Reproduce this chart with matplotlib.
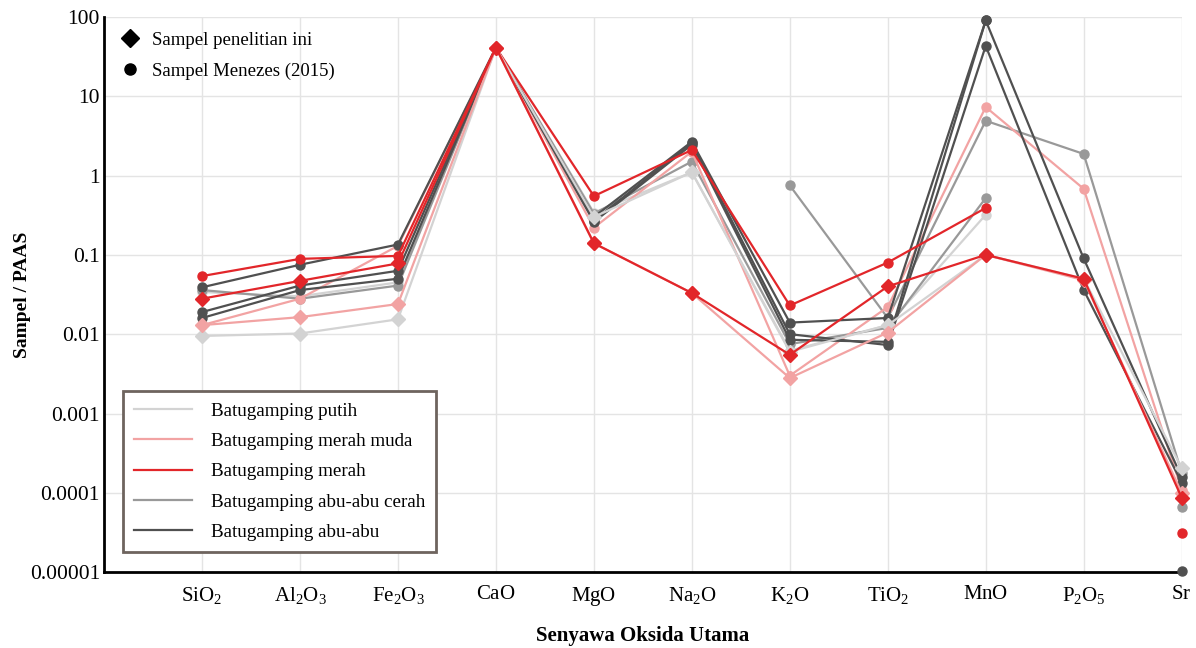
import matplotlib
matplotlib.use("Agg")
import matplotlib.pyplot as plt
from matplotlib.lines import Line2D
import numpy as np

nan = np.nan

oxides = ["SiO_2", "Al_2O_3", "Fe_2O_3", "CaO", "MgO", "Na_2O",
          "K_2O", "TiO_2", "MnO", "P_2O_5", "Sr"]
ytick_vals = [1e-5, 1e-4, 1e-3, 1e-2, 1e-1, 1, 10, 100]
ytick_text = ["0.00001", "0.0001", "0.001", "0.01", "0.1", "1", "10", "100"]

# this study (diamonds)
putih_d     = [0.0095, 0.0102, 0.0154, 41, 0.30, 1.10, 0.0060, 0.013, 0.10, 0.05, 0.000206]
merahmuda_d = [0.013, 0.0164, 0.024, 41, 0.14, 0.033, 0.0028, 0.0105, 0.10, 0.048, 0.0001]
merah_d     = [0.028, 0.047, 0.078, 41, 0.14, 0.033, 0.0055, 0.040, 0.10, 0.050, 0.000087]

# Menezes (2015) samples (circles)
putih_c     = [0.034, 0.030, 0.045, 41, 0.34, 1.10, 0.0062, 0.013, 0.32, nan, nan]
merahmuda_c = [0.013, 0.028, 0.130, 41, 0.22, 2.00, 0.0030, 0.022, 7.3, 0.68, 0.00011]
merah_c     = [0.054, 0.089, 0.097, 41, 0.55, 2.10, 0.023, 0.080, 0.39, nan, 0.000031]
cerah_c1    = [0.036, 0.028, 0.041, 41, 0.33, 1.50, 0.0075, 0.012, 0.52, nan, 0.000066]
cerah_c2    = [nan, nan, nan, nan, nan, nan, 0.75, 0.016, 4.9, 1.87, 0.00018]
abu_c1      = [0.039, 0.075, 0.135, 41, 0.30, 2.67, 0.014, 0.016, 90, 0.090, 0.000157]
abu_c2      = [0.019, 0.041, 0.063, 41, 0.27, 2.60, 0.010, 0.0073, 43, 0.036, 0.000135]
abu_c3      = [0.016, 0.036, 0.050, 41, 0.26, 2.45, 0.0085, 0.0080, 90, nan, 0.0000104]

C_PUTIH = "#d3d3d3"
C_MUDA = "#f2a3a3"
C_MERAH = "#e2262a"
C_CERAH = "#999999"
C_ABU = "#505050"

plt.rcParams["font.family"] = ["Liberation Serif", "DejaVu Serif"]
plt.rcParams["mathtext.fontset"] = "stix"

fig = plt.figure(figsize=(11.96, 6.48), dpi=100)
ax = fig.add_axes([0.087, 0.117, 0.901, 0.857])

x = np.arange(1, len(oxides) + 1)

circle_series = [
    (putih_c, C_PUTIH), (cerah_c1, C_CERAH), (cerah_c2, C_CERAH),
    (merahmuda_c, C_MUDA), (abu_c1, C_ABU), (abu_c2, C_ABU), (abu_c3, C_ABU),
    (merah_c, C_MERAH),
]
for vals, col in circle_series:
    ax.plot(x, vals, color=col, lw=1.6, marker="o", ms=6.5, zorder=3, clip_on=False)

diamond_series = [(putih_d, C_PUTIH), (merahmuda_d, C_MUDA), (merah_d, C_MERAH)]
for vals, col in diamond_series:
    ax.plot(x, vals, color=col, lw=1.6, marker="D", ms=7.5, zorder=4, clip_on=False)

ax.set_yscale("log")
ax.set_ylim(1e-5, 100)
ax.set_xlim(0, len(oxides))
ax.set_yticks(ytick_vals)
ax.set_yticklabels(ytick_text)
ax.minorticks_off()
ax.set_xticks(x)
ax.set_xticklabels([r"$\mathregular{%s}$" % o for o in oxides])
ax.tick_params(axis="x", length=0, labelsize=15, pad=9)
ax.tick_params(axis="y", length=0, labelsize=15.5, pad=3)
ax.grid(True, color="#e4e4e4", lw=1)
ax.set_axisbelow(True)

for s in ["top", "right"]:
    ax.spines[s].set_visible(False)
for s in ["left", "bottom"]:
    ax.spines[s].set_linewidth(2)
    ax.spines[s].set_color("black")
    ax.spines[s].set_zorder(2)

ax.set_ylabel("Sampel / PAAS", fontsize=14, fontweight="bold")
ax.yaxis.set_label_coords(-0.068, 0.5)
ax.set_xlabel("Senyawa Oksida Utama", fontsize=15, fontweight="bold")
ax.xaxis.set_label_coords(0.5, -0.097)

# marker legend
mk_handles = [
    Line2D([], [], color="black", marker="D", ls="none", ms=9, label="Sampel penelitian ini"),
    Line2D([], [], color="black", marker="o", ls="none", ms=8, label="Sampel Menezes (2015)"),
]
leg1 = ax.legend(handles=mk_handles, loc="upper left", frameon=False, fontsize=13.5,
                 bbox_to_anchor=(-0.009, 1.004), handletextpad=0.2, labelspacing=0.75)
ax.add_artist(leg1)

# colour legend
line_handles = [
    Line2D([], [], color=C_PUTIH, lw=1.6, label="Batugamping putih"),
    Line2D([], [], color=C_MUDA, lw=1.6, label="Batugamping merah muda"),
    Line2D([], [], color=C_MERAH, lw=1.6, label="Batugamping merah"),
    Line2D([], [], color=C_CERAH, lw=1.6, label="Batugamping abu-abu cerah"),
    Line2D([], [], color=C_ABU, lw=1.6, label="Batugamping abu-abu"),
]
leg2 = ax.legend(handles=line_handles, loc="lower left", fontsize=13.7,
                 bbox_to_anchor=(0.0176, 0.036), borderaxespad=0,
                 fancybox=False, framealpha=1,
                 handlelength=3.0, handletextpad=1.0, labelspacing=0.68,
                 borderpad=0.6)
leg2.get_frame().set_edgecolor("#6e645e")
leg2.get_frame().set_linewidth(2)

fig.savefig("out.png", dpi=100)
